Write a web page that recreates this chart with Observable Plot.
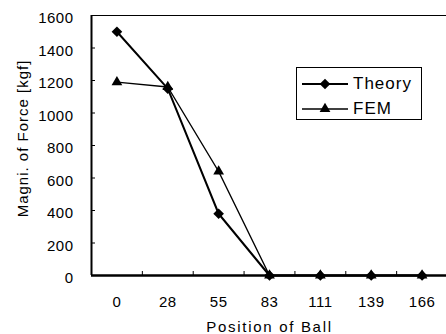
<!DOCTYPE html>
<html>
<head>
<meta charset="utf-8">
<script src="https://cdn.jsdelivr.net/npm/d3@7"></script>
<script src="https://cdn.jsdelivr.net/npm/@observablehq/plot@0.6"></script>
<style>
  html, body { margin: 0; padding: 0; background: #fff; }
  #wrap { position: relative; width: 446px; height: 334px; overflow: hidden; font-family: "Liberation Sans", Arial, sans-serif; }
  #wrap > svg { display: block; }
  #legend { position: absolute; left: 296px; top: 67px; width: 126px; height: 53px; border: 1px solid #000; background: #fff; box-sizing: border-box; }
  #legend .row { position: absolute; left: 5px; height: 22px; display: flex; align-items: center; font-size: 17px; letter-spacing: 1px; color: #000; }
  #legend svg { margin-right: 4px; }
  .ylab text { letter-spacing: 1px; }
  .xlab text { letter-spacing: 1.7px; }
  .tk text { letter-spacing: 0.5px; }
</style>
</head>
<body>
<div id="wrap"></div>
<script>
const positions = ["0", "28", "55", "83", "111", "139", "166"];
const theory = [1500, 1150, 380, 0, 0, 0, 0];
const fem = [1190, 1160, 640, 0, 0, 0, 0];
const yTicks = [0, 200, 400, 600, 800, 1000, 1200, 1400, 1600];
const seriesNames = ["Theory", "FEM"];

const theoryData = positions.map((p, i) => ({i, v: theory[i]}));
const femData = positions.map((p, i) => ({i, v: fem[i]}));
const boundaries = positions.slice(1).map((p, i) => i + 0.5);

const chart = Plot.plot({
  width: 446,
  height: 334,
  marginLeft: 91,
  marginRight: -1,
  marginTop: 15,
  marginBottom: 59,
  style: {fontFamily: "Liberation Sans, Arial, sans-serif", fontSize: "15px", color: "#000", background: "#fff"},
  x: {type: "linear", domain: [-0.5, positions.length - 0.5], axis: null},
  y: {domain: [0, 1600], axis: null},
  marks: [
    Plot.frame({stroke: "#000", strokeWidth: 1}),
    Plot.axisY(yTicks, {anchor: "left", tickSize: -4, tickFormat: () => "", label: null}),
    Plot.axisY(yTicks, {anchor: "left", tickSize: 0, tickPadding: 18, tickFormat: d => String(d), fontSize: 15, label: null, className: "tk", dy: 3}),
    Plot.axisX(positions.map((p, i) => i), {anchor: "bottom", tickSize: 0, tickPadding: 21, tickFormat: i => positions[i], fontSize: 15, label: null, className: "tk"}),
    Plot.axisX(boundaries, {anchor: "bottom", tickSize: -4, tickFormat: () => "", label: null}),
    Plot.ruleX([-0.5], {stroke: "#000", strokeWidth: 2}),
    Plot.ruleY([0], {stroke: "#000", strokeWidth: 2.5}),
    Plot.line(femData, {x: "i", y: "v", stroke: "#000", strokeWidth: 1.4}),
    Plot.line(theoryData, {x: "i", y: "v", stroke: "#000", strokeWidth: 2}),
    Plot.dot(theoryData, {x: "i", y: "v", symbol: "diamond2", r: 4.8, fill: "#000", stroke: "none"}),
    Plot.dot(femData, {x: "i", y: "v", symbol: "triangle", r: 4, fill: "#000", stroke: "none"}),
    Plot.text(["Magni. of Force [kgf]"], {frameAnchor: "left", textAnchor: "middle", lineAnchor: "middle", dx: -68, dy: -7, rotate: -90, fontSize: 15, fill: "#000", className: "ylab"}),
    Plot.text(["Position of Ball"], {frameAnchor: "bottom", textAnchor: "middle", lineAnchor: "middle", dy: 52, fontSize: 15, fill: "#000", className: "xlab"})
  ]
});

const wrap = document.getElementById("wrap");
wrap.appendChild(chart);

const legend = document.createElement("div");
legend.id = "legend";
const symbols = [d3.symbolDiamond2, d3.symbolTriangle];
const sizes = [Math.PI * 4.8 * 4.8, Math.PI * 4 * 4];
const widths = [2, 1.4];
seriesNames.forEach((name, k) => {
  const row = document.createElement("div");
  row.className = "row";
  row.style.top = (k === 0 ? 5 : 30) + "px";
  const svg = d3.create("svg").attr("width", 47).attr("height", 14);
  svg.append("line").attr("x1", 0).attr("x2", 46).attr("y1", 7).attr("y2", 7).attr("stroke", "#000").attr("stroke-width", widths[k]);
  svg.append("path").attr("d", d3.symbol(symbols[k], sizes[k])()).attr("transform", "translate(23,7)").attr("fill", "#000");
  row.appendChild(svg.node());
  const span = document.createElement("span");
  span.textContent = name;
  row.appendChild(span);
  legend.appendChild(row);
});
wrap.appendChild(legend);
</script>
</body>
</html>
